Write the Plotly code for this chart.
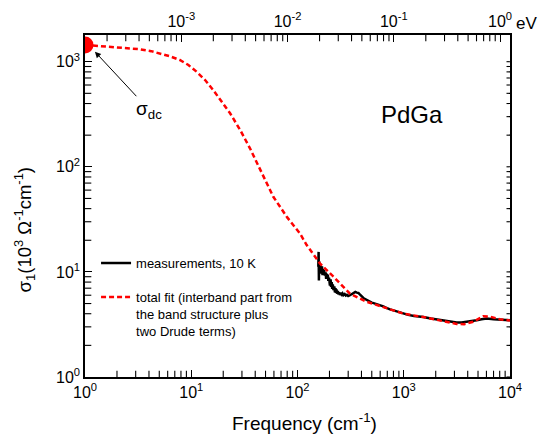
import numpy as np
import plotly.graph_objects as go

# ---------------- data ----------------
# total fit (red dashed)
fit_freq = [1, 1.4, 1.85, 2.5, 3.3, 4.2, 5.08, 6.3, 7.8, 9.4, 11.2, 13.5, 16.1, 19.3, 23.2,
            28.8, 35.7, 46, 59.2, 80, 105.6, 122, 163,
            218, 312, 448, 691, 1000, 1528, 2200, 3148, 3700, 4500, 5600, 6500, 8000, 10000]
fit_sigma = [1443, 1410, 1371, 1345, 1313, 1260, 1202, 1125, 1038, 930, 804, 670, 537, 420, 323,
             225, 150, 88, 51.8, 33, 23.2, 18, 12.0,
             9.0, 6.2, 5.2, 4.5, 4.0, 3.72, 3.45, 3.2, 3.18, 3.35, 3.78, 3.75, 3.55, 3.45]

# measurements at 10 K (black)
meas_freq = [157, 158, 159, 160, 161, 163, 164, 166, 168, 170, 172, 174, 176, 178, 181, 184,
             186, 188, 190, 193, 195, 198, 202, 205, 207, 210, 212, 215, 218, 222, 225, 228,
             230, 233, 236, 240, 242, 246, 250, 255, 260, 265, 270, 278, 285, 292, 300, 312,
             322, 330, 340, 350, 362, 374, 386, 400, 410, 420, 434, 448, 465, 480, 500, 520,
             540, 556, 580, 600, 620, 642, 670, 700, 743, 800, 858, 920, 991, 1100, 1250,
             1528, 1800, 2195, 2600, 3148, 3500, 3908, 4400, 4853, 5400, 6036, 7000, 8000,
             9000, 10000]
meas_sigma = [11.2, 15.5, 8.3, 12.6, 10.2, 12.0, 9.6, 11.4, 10.0, 11.3, 9.3, 10.6, 9.8, 10.4, 9.2, 9.9,
              8.6, 9.6, 8.9, 9.4, 8.2, 8.8, 7.4, 8.5, 7.2, 8.0, 6.9, 7.6, 6.7, 7.3, 6.4, 7.0,
              6.3, 6.8, 6.2, 6.6, 6.1, 6.4, 6.05, 6.3, 6.1, 6.25, 6.0, 6.15, 5.95, 6.05, 5.9, 6.0,
              6.1, 6.2, 6.3, 6.45, 6.35, 6.3, 6.1, 5.95, 5.75, 5.6, 5.5, 5.35, 5.25, 5.15, 5.1, 5.05,
              5.0, 4.95, 4.85, 4.8, 4.75, 4.7, 4.6, 4.5, 4.4, 4.3, 4.2, 4.1, 4.02, 3.9, 3.8,
              3.73, 3.6, 3.47, 3.38, 3.3, 3.3, 3.34, 3.42, 3.47, 3.55, 3.6, 3.55, 3.5,
              3.47, 3.47]

# dc conductivity point
dc_freq = [1]
dc_sigma = [1443]

# axis ticks
x_ticks = [1, 10, 100, 1000, 10000]
x_ticklabels = ["10<sup>0</sup>", "10<sup>1</sup>", "10<sup>2</sup>", "10<sup>3</sup>", "10<sup>4</sup>"]
y_ticks = [1, 10, 100, 1000]
y_ticklabels = ["10<sup>0</sup>", "10<sup>1</sup>", "10<sup>2</sup>", "10<sup>3</sup>"]
ev_ticks = [1e-3, 1e-2, 1e-1, 1]
ev_ticklabels = ["10<sup>-3</sup>", "10<sup>-2</sup>", "10<sup>-1</sup>", "10<sup>0</sup>"]
digits = [2, 3, 4, 5, 6, 7, 8, 9]
x_minor = [float(d * 10 ** e) for e in range(0, 4) for d in digits]
y_minor = [float(d * 10 ** e) for e in range(0, 4) for d in digits if d * 10 ** e < 1800]
ev_minor = [float(d * 10.0 ** e) for e in range(-4, 1) for d in digits
            if 1.3e-4 < d * 10.0 ** e < 1.2]

CM_PER_EV = 8065.54
FONT = "Liberation Sans, Arial, sans-serif"
X_RANGE = [0, 4]
Y_RANGE = [0, 3.254]
EV_RANGE = [np.log10(1 / CM_PER_EV), np.log10(1e4 / CM_PER_EV)]

W, H = 538, 434
ML, MR, MT, MB = 85, 28, 35, 57

fig = go.Figure()

fig.add_trace(go.Scatter(
    x=meas_freq, y=meas_sigma, mode="lines",
    line=dict(color="black", width=2.5),
    name="measurements, 10 K", legendgroup="a"))

fig.add_trace(go.Scatter(
    x=fit_freq, y=fit_sigma, mode="lines",
    line=dict(color="#FF0000", width=2.5, dash="5px,3px"),
    name="total fit (interband part from<br>the band structure plus<br>two Drude terms)",
    legendgroup="b"))

fig.add_trace(go.Scatter(
    x=dc_freq, y=dc_sigma, mode="markers",
    marker=dict(color="#FF0000", size=17), showlegend=False))

# invisible trace carrying the top (eV) axis
fig.add_trace(go.Scatter(
    x=[ev_ticks[0], ev_ticks[-1]], y=[10, 10], xaxis="x2", mode="markers",
    marker=dict(opacity=0), showlegend=False, hoverinfo="skip"))


# minor ticks: short line markers centred on the frame, clipped to the plot area
def tick_marks(x, y, symbol, size, xaxis="x"):
    fig.add_trace(go.Scatter(
        x=x, y=y, xaxis=xaxis, mode="markers", cliponaxis=True,
        marker=dict(symbol=symbol, size=size, color="black",
                    line=dict(color="black", width=1.1)),
        showlegend=False, hoverinfo="skip"))


y_bottom = 10 ** Y_RANGE[0]
y_top = 10 ** Y_RANGE[1]
tick_marks(x_minor, [y_bottom] * len(x_minor), "line-ns-open", 9)
tick_marks(ev_minor, [y_top] * len(ev_minor), "line-ns-open", 9, xaxis="x2")
tick_marks([1.0] * len(y_minor), y_minor, "line-ew-open", 9)
tick_marks([1e4] * (len(y_minor) + len(y_ticks)), y_minor + y_ticks, "line-ew-open", 5)

axis_common = dict(showline=True, linecolor="black", linewidth=1.5,
                   ticks="inside", ticklen=7, tickwidth=1.2, tickcolor="black",
                   showgrid=False, zeroline=False, automargin=False,
                   tickfont=dict(family=FONT, size=16, color="black"))

fig.update_layout(
    width=W, height=H,
    margin=dict(l=ML, r=MR, t=MT, b=MB),
    paper_bgcolor="white", plot_bgcolor="white",
    font=dict(family=FONT, color="black"),
    xaxis=dict(type="log", range=X_RANGE, tickvals=x_ticks, ticktext=x_ticklabels,
               **axis_common),
    xaxis2=dict(type="log", overlaying="x", side="top", anchor="y",
                range=EV_RANGE, tickvals=ev_ticks, ticktext=ev_ticklabels,
                **axis_common),
    yaxis=dict(type="log", range=Y_RANGE, tickvals=y_ticks, ticktext=y_ticklabels,
               mirror=True, **axis_common),
    legend=dict(x=0.026, y=0.377, xanchor="left", yanchor="top",
                bgcolor="rgba(0,0,0,0)", font=dict(family=FONT, size=13),
                valign="top", tracegroupgap=14),
    showlegend=True,
)

# axis titles
fig.add_annotation(
    x=0.5176, y=-0.1326, xref="paper", yref="paper", xanchor="center", yanchor="middle",
    text="Frequency (cm<sup>-1</sup>)", showarrow=False,
    font=dict(family=FONT, size=19, color="black"))
fig.add_annotation(
    x=-0.143, y=0.4293, xref="paper", yref="paper", xanchor="center", yanchor="middle",
    text="σ<sub>1</sub>(10<sup>3</sup> Ω<sup>-1</sup>cm<sup>-1</sup>)", textangle=-90,
    showarrow=False, font=dict(family=FONT, size=18.5, color="black"))

fig.add_annotation(
    x=np.log10(1.24), y=3.095, xref="x", yref="y",
    text="σ<sub>dc</sub>", showarrow=True, ax=54, ay=58,
    arrowhead=2, arrowsize=1.2, arrowwidth=1, arrowcolor="black",
    font=dict(family=FONT, size=19, color="black"))

fig.add_annotation(
    x=0.769, y=0.769, xref="paper", yref="paper", xanchor="center", yanchor="middle",
    text="PdGa", showarrow=False,
    font=dict(family=FONT, size=24, color="black"))

fig.add_annotation(
    x=1.0094, y=1.035, xref="paper", yref="paper", xanchor="left", yanchor="middle",
    text="eV", showarrow=False,
    font=dict(family=FONT, size=17, color="black"))

fig.write_html("out.html",
               config={"displayModeBar": False},
               post_script="document.body.style.margin='0';"
                           "document.body.style.overflow='hidden';")
